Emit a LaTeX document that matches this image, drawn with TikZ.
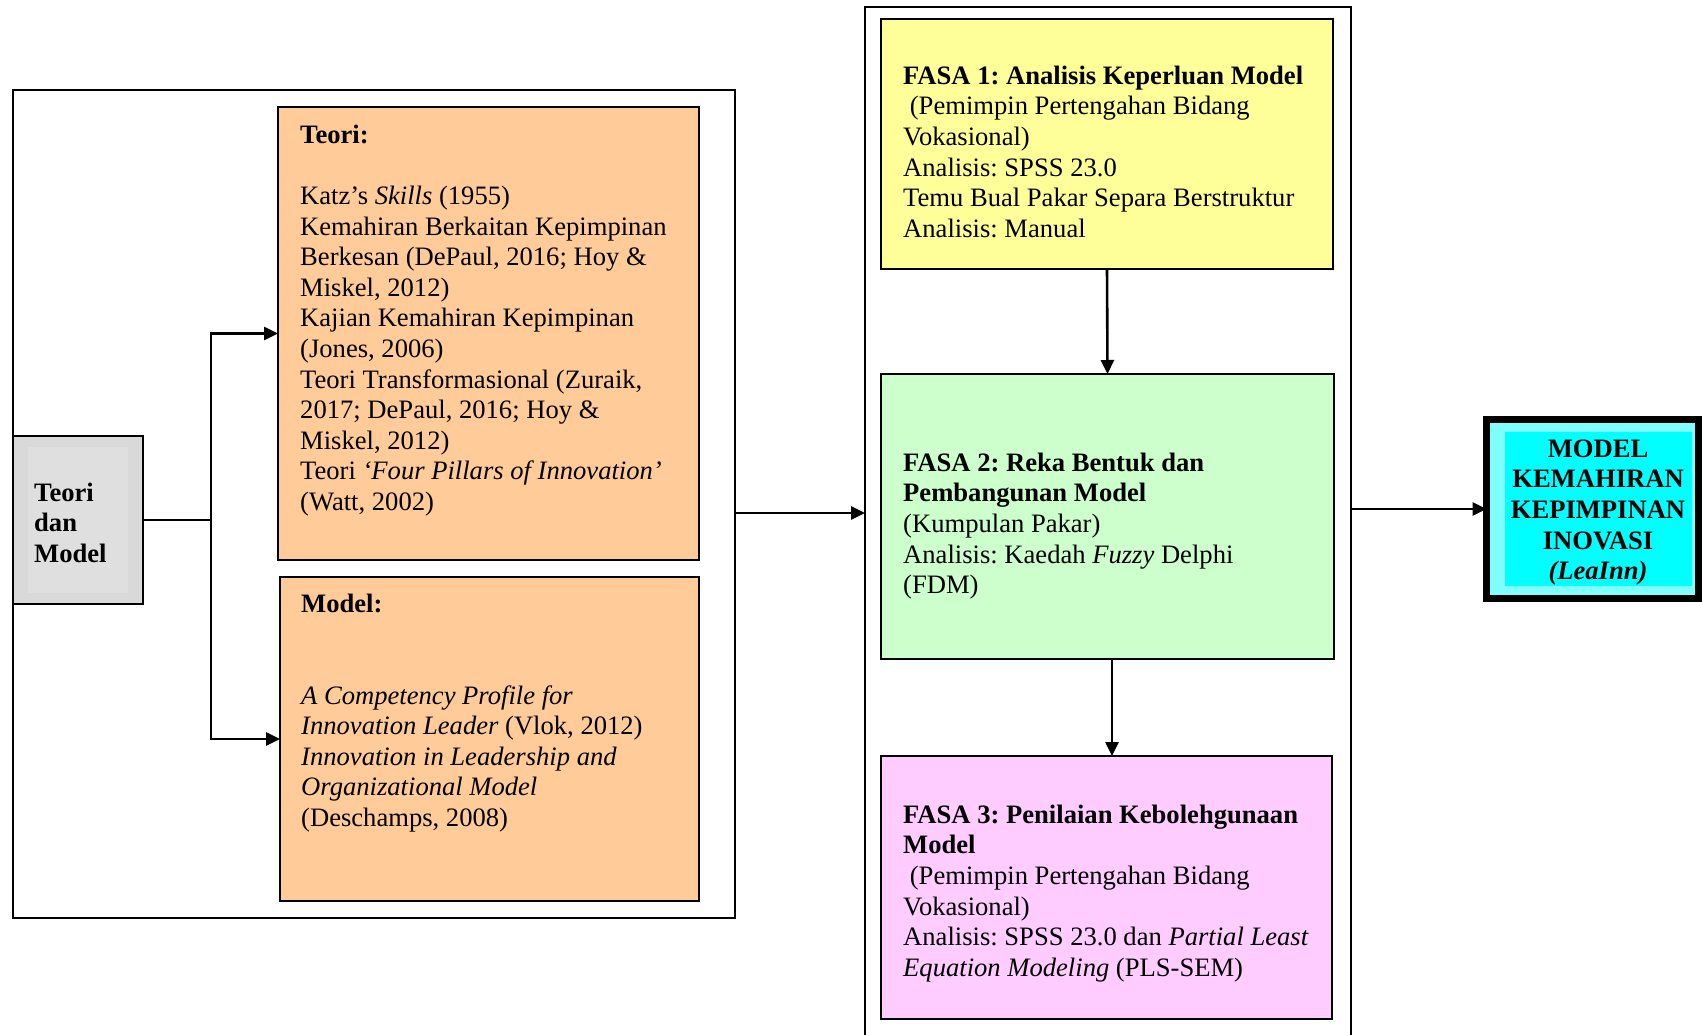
\documentclass[tikz,border=0pt]{standalone}
\usepackage{fontspec}
\setmainfont{Liberation Serif}
\usetikzlibrary{arrows.meta}
\frenchspacing
\definecolor{peach}{HTML}{FFCC99}
\definecolor{lyellow}{HTML}{FFFF99}
\definecolor{lgreen}{HTML}{CCFFCC}
\definecolor{lpink}{HTML}{FFCCFF}
\definecolor{gbox}{HTML}{D9D9D9}
\definecolor{gboxin}{HTML}{DFDFDF}
\definecolor{cyanA}{HTML}{00FFFF}
\definecolor{cyanB}{HTML}{80FFFF}
\begin{document}
\begin{tikzpicture}[x=1pt,y=-1pt,
  box/.style={draw=black, line width=2pt, anchor=north west, inner sep=0pt, outer sep=0pt},
  frame/.style={draw=black, line width=2.5pt, anchor=north west, inner sep=0pt, outer sep=0pt},
  txt/.style={anchor=north west, inner sep=0pt, align=left, font=\fontsize{26.6}{30.6}\selectfont\frenchspacing},
  conn/.style={draw=black, line width=2.6pt},
  arr/.style={conn, -{Triangle[length=14pt,width=13pt]}},
]
\useasboundingbox (0,0) rectangle (1702,1035);
\fill[white] (0,0) rectangle (1702,1035);

% frames
\node[frame, minimum width=722, minimum height=828] (outerL) at (13,90) {};
\node[frame, minimum width=486, minimum height=1040] (midouter) at (865,7) {};

% left boxes
\node[box, line width=1.5pt, fill=gbox, minimum width=130, minimum height=168] (gray) at (13,436) {};
\fill[gboxin] (28,447) rectangle (128,593);
\node[box, fill=peach, minimum width=421, minimum height=453] (teori) at (278,107) {};
\node[box, fill=peach, minimum width=419, minimum height=324] (model) at (280,577) {};

% phases
\node[box, fill=lyellow, minimum width=452, minimum height=250] (fasa1) at (881,19) {};
\node[box, fill=lgreen, minimum width=453, minimum height=285] (fasa2) at (881,374) {};
\node[box, fill=lpink, minimum width=451, minimum height=263] (fasa3) at (881,756) {};

% result
\node[draw=black, line width=7pt, fill=cyanB, anchor=north west, inner sep=0pt, outer sep=0pt,
      minimum width=212, minimum height=179] (leainn) at (1486.5,419.5) {};
\fill[cyanA] (1505,432) rectangle (1692,586);

% connectors
\coordinate (split) at (211,520);
\draw[conn] (gray.east) -- (split);
\draw[arr] (split) |- (teori.west);
\draw[arr] (split) |- (model.west);
\draw[arr] (outerL.east |- 0,513) -- (midouter.west |- 0,513);
\draw[arr] (fasa1.south) -- (fasa2.north);
\draw[arr] ([xshift=4.5pt]fasa2.south) -- ([xshift=4.5pt]fasa2.south |- fasa3.north);
\draw[arr] (midouter.east |- leainn.west) -- (leainn.west);

% texts
\node[txt, font=\fontsize{26.6}{30.6}\selectfont\bfseries] (graytxt) at (34,479.6)
  {\strut Teori\\dan\\Model};

\node[txt] (teoritxt) at (300,121.6) {\strut\textbf{Teori:}\\[30.6pt]
Katz’s \textit{Skills} (1955)\\
Kemahiran Berkaitan Kepimpinan\\
Berkesan (DePaul, 2016; Hoy \&\\
Miskel, 2012)\\
Kajian Kemahiran Kepimpinan\\
(Jones, 2006)\\
Teori Transformasional (Zuraik,\\
2017; DePaul, 2016; Hoy \&\\
Miskel, 2012)\\
Teori \textit{‘Four Pillars of Innovation’}\\
(Watt, 2002)};

\node[txt] (modeltxt) at (301,590.6) {\strut\textbf{Model:}\\[61.2pt]
\textit{A Competency Profile for}\\
\textit{Innovation Leader} (Vlok, 2012)\\
\textit{Innovation in Leadership and}\\
\textit{Organizational Model}\\
(Deschamps, 2008)};

\node[txt] (fasa1txt) at (903,62.6) {\strut\textbf{FASA 1: Analisis Keperluan Model}\\
\hspace*{0.25em}(Pemimpin Pertengahan Bidang\\
Vokasional)\\
Analisis: SPSS 23.0\\
Temu Bual Pakar Separa Berstruktur\\
Analisis: Manual};

\node[txt] (fasa2txt) at (903,449.6) {\strut\textbf{FASA 2: Reka Bentuk dan}\\
\textbf{Pembangunan Model}\\
(Kumpulan Pakar)\\
Analisis: Kaedah \textit{Fuzzy} Delphi\\
(FDM)};

\node[txt] (fasa3txt) at (903,801.6) {\strut\textbf{FASA 3: Penilaian Kebolehgunaan}\\
\textbf{Model}\\
\hspace*{0.25em}(Pemimpin Pertengahan Bidang\\
Vokasional)\\
Analisis: SPSS 23.0 dan \textit{Partial Least}\\
\textit{Equation Modeling} (PLS-SEM)};

\node[anchor=north, inner sep=0pt, align=center, font=\fontsize{26.6}{30.6}\selectfont\bfseries] (leainntxt)
  at (1598,435.6) {\strut MODEL\\KEMAHIRAN\\KEPIMPINAN\\INOVASI\\\textit{(LeaInn)}};
\end{tikzpicture}
\end{document}
